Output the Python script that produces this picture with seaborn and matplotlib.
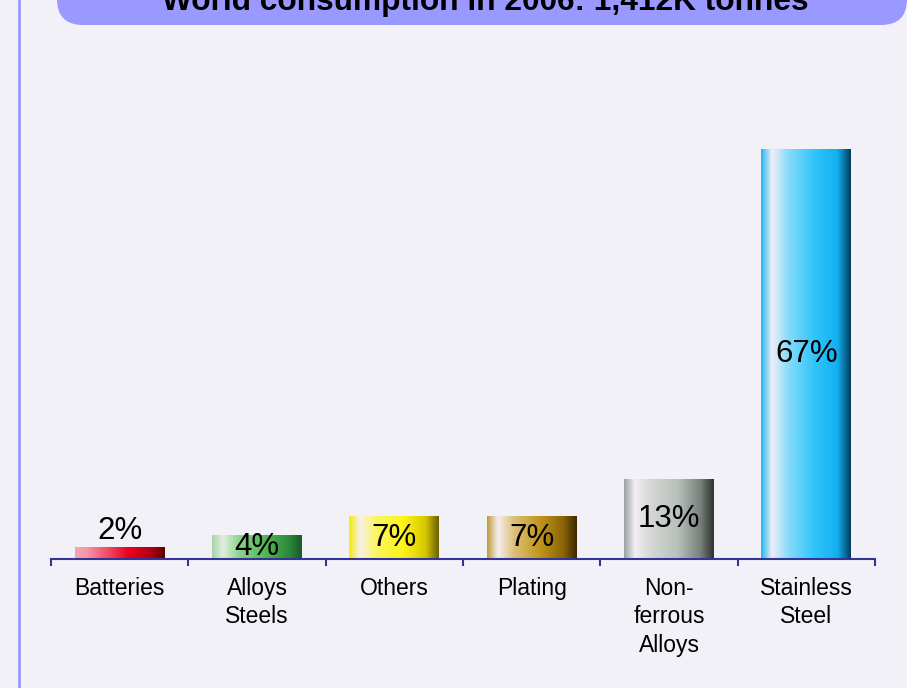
import numpy as np
import pandas as pd
import matplotlib
matplotlib.use('Agg')
import matplotlib.pyplot as plt
from matplotlib.colors import LinearSegmentedColormap
from matplotlib.patches import FancyBboxPatch
from matplotlib.lines import Line2D
import seaborn as sns

# Data
categories = ['Batteries', 'Alloys\nSteels', 'Others', 'Plating', 'Non-\nferrous\nAlloys', 'Stainless\nSteel']
shares = [2, 4, 7, 7, 13, 67]
value_labels = ['2%', '4%', '7%', '7%', '13%', '67%']
title = 'World consumption in 2006: 1,412K tonnes'

# left -> highlight -> main -> dark
gradients = [
    ['#f7a3b3', '#f59aaa', '#f06078', '#e8001c', '#b00010', '#5a0000'],
    ['#a8d4a8', '#e2eee2', '#8cd48c', '#50b850', '#2c8a3a', '#1a5a28'],
    ['#f4ec00', '#f6f0ec', '#fbf660', '#fff41a', '#d8c800', '#6a5e00'],
    ['#c09a38', '#f4eef0', '#dcc078', '#c09418', '#8a6408', '#3a2800'],
    ['#9aa2a2', '#f2eef2', '#d4d8d4', '#b8c0bc', '#7a807c', '#2e3230'],
    ['#1cb8f0', '#f0eef8', '#88dcf8', '#30c4fa', '#14b0f0', '#003c5a'],
]
grad_stops = [0.0, 0.12, 0.3, 0.6, 0.85, 1.0]

bg = '#f2f1f8'
axis_col = '#333399'

df = pd.DataFrame({'category': categories, 'share': shares})

sns.set_style('white')
plt.rcParams['font.family'] = ['Liberation Sans', 'DejaVu Sans']
plt.rcParams['text.color'] = 'black'
plt.rcParams['xtick.color'] = axis_col
plt.rcParams['xtick.labelcolor'] = 'black'

fig = plt.figure(figsize=(9.07, 6.88), dpi=100, facecolor=bg)
ax = fig.add_axes([51 / 907, 1 - 559 / 688, 824 / 907, 489.6 / 688])
ax.set_facecolor(bg)

sns.barplot(data=df, x='category', y='share', hue='category', legend=False,
            palette=[g[3] for g in gradients], width=0.655, ax=ax, zorder=2)

ax.set_xlim(-0.5, len(categories) - 0.5)
ax.set_ylim(0, 80)

# gradient fill clipped to each bar
for patch, stops in zip(ax.patches, gradients):
    x0, y0 = patch.get_x(), patch.get_y()
    w, h = patch.get_width(), patch.get_height()
    cmap = LinearSegmentedColormap.from_list('g', list(zip(grad_stops, stops)))
    grad = np.linspace(0, 1, 256).reshape(1, -1)
    im = ax.imshow(grad, cmap=cmap, extent=[x0, x0 + w, y0, y0 + h],
                   aspect='auto', zorder=2.5, interpolation='bicubic')
    im.set_clip_path(patch)
    patch.set_facecolor('none')
    patch.set_edgecolor('none')

# value labels
for i, (v, lab) in enumerate(zip(shares, value_labels)):
    if v < 3:
        ax.text(i, v + 2.5, lab, ha='center', va='center', fontsize=22.5, color='black', zorder=4)
    else:
        ax.text(i, v / 2, lab, ha='center', va='center', fontsize=22.5, color='black', zorder=4)

for s in ['left', 'top', 'right']:
    ax.spines[s].set_visible(False)
ax.spines['bottom'].set_color(axis_col)
ax.spines['bottom'].set_linewidth(1.5)
ax.spines['bottom'].set_zorder(5)
ax.set_yticks([])
ax.set_xlabel('')
ax.set_ylabel('')
ax.set_xticks(range(len(categories)))
ax.set_xticklabels(categories, fontsize=16.5, linespacing=1.3, color='black')
ax.tick_params(axis='x', which='major', length=0, pad=13)
ax.set_xticks(np.arange(-0.5, len(categories), 1.0), minor=True)
ax.tick_params(axis='x', which='minor', bottom=True, length=5, width=1.5,
               color=axis_col, direction='out')

# title box
box = FancyBboxPatch((0.57, 6.63), 8.5, 0.9, boxstyle='round,pad=0,rounding_size=0.26',
                     transform=fig.dpi_scale_trans, facecolor='#9999ff', edgecolor='none')
fig.add_artist(box)
fig.text(485 / 907, 1 - 10 / 688, title, ha='center', va='baseline',
         fontsize=22.8, fontweight='bold', color='black')

# left border line
fig.add_artist(Line2D([18.5 / 907, 18.5 / 907], [0, 1], transform=fig.transFigure,
                      color='#9999ff', linewidth=2))

fig.savefig('out.png', dpi=100, facecolor=bg)
